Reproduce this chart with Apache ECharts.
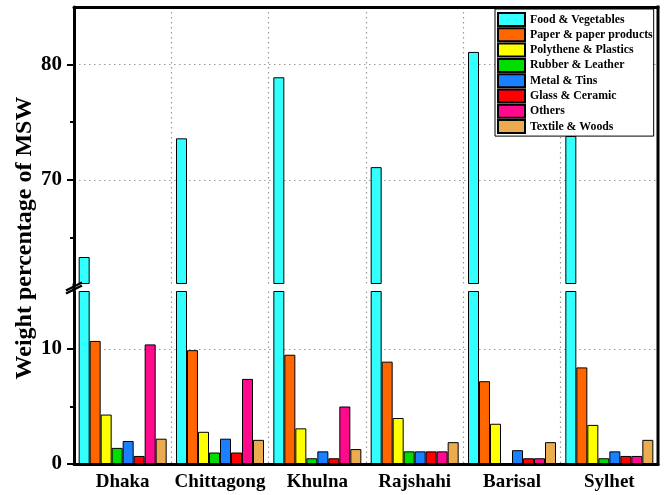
<!DOCTYPE html>
<html>
<head>
<meta charset="utf-8">
<script src="https://cdn.jsdelivr.net/npm/echarts@6/dist/echarts.min.js"></script>
<style>
  html, body { margin: 0; padding: 0; background: #fff; }
  #chart { width: 667px; height: 495px; }
</style>
</head>
<body>
<div id="chart"></div>
<script>
// Municipal solid waste composition (weight %) by city
const categories = ['Dhaka', 'Chittagong', 'Khulna', 'Rajshahi', 'Barisal', 'Sylhet'];
const food     = [63.3, 73.6, 78.9, 71.1, 81.1, 73.8];
const paper    = [10.7, 9.9, 9.5, 8.9, 7.2, 8.4];
const plastic  = [4.3, 2.8, 3.1, 4.0, 3.5, 3.4];
const rubber   = [1.4, 1.0, 0.5, 1.1, 0, 0.5];
const metal    = [2.0, 2.2, 1.1, 1.1, 1.2, 1.1];
const glass    = [0.7, 1.0, 0.5, 1.1, 0.5, 0.7];
const others   = [10.4, 7.4, 5.0, 1.1, 0.5, 0.7];
const textile  = [2.2, 2.1, 1.3, 1.9, 1.9, 2.1];

const seriesNames = ['Food & Vegetables', 'Paper & paper products', 'Polythene & Plastics',
  'Rubber & Leather', 'Metal & Tins', 'Glass & Ceramic', 'Others', 'Textile & Woods'];
const seriesData = [food, paper, plastic, rubber, metal, glass, others, textile];
const colors = ['#33FFFF', '#FF6600', '#FFFF00', '#00DD00', '#1A80FF', '#FF0000', '#FF0A8C', '#EBAB4F'];

// broken value axis: lower segment and upper segment
const lowerMin = 0, lowerMax = 15;
const upperMin = 61, upperMax = 85;
const lowerMajor = [0, 10], lowerMinor = [5];
const upperMajor = [70, 80], upperMinor = [65, 75];

// layout (px)
const W = 667, H = 495;
const plotLeft = 74, plotRight = 658;
const plotTop = 7, plotBottom = 464;
const upperBottom = 283.5, lowerTop = 291.5;

const FONT = 'Liberation Serif';
const dotted = { color: '#9a9a9a', width: 1.2, type: [1.5, 3.5] };

const lowerGrid = { left: plotLeft, right: W - plotRight, top: lowerTop, height: plotBottom - lowerTop };
const upperGrid = { left: plotLeft, right: W - plotRight, top: plotTop, height: upperBottom - plotTop };

function makeSeries(yIdx, xIdx) {
  return seriesNames.map((name, i) => {
    const vals = seriesData[i];
    return {
      name,
      type: 'bar',
      xAxisIndex: xIdx,
      yAxisIndex: yIdx,
      barWidth: 11,
      barGap: '0%',
      data: xIdx === 1 ? vals.map(v => (v > upperMin ? v : '-')) : vals.slice(),
      itemStyle: { color: colors[i], borderColor: '#000', borderWidth: 1 },
      emphasis: { disabled: true },
      clip: true,
      z: 3
    };
  });
}

function valueAxes(gridIndex, min, max, major, minor) {
  return [
    {
      type: 'value', gridIndex, min, max, position: 'left',
      axisLine: { show: true, onZero: false, lineStyle: { color: '#000', width: 3 } },
      axisTick: { show: true, customValues: major, length: 7, lineStyle: { color: '#000', width: 2 } },
      axisLabel: { show: true, customValues: major, margin: 12, color: '#000',
        fontFamily: FONT, fontWeight: 'bold', fontSize: 21 },
      splitLine: { show: true, lineStyle: dotted }
    },
    {
      type: 'value', gridIndex, min, max, position: 'left',
      axisLine: { show: false },
      axisTick: { show: true, customValues: minor, length: 4, lineStyle: { color: '#000', width: 2 } },
      axisLabel: { show: false },
      splitLine: { show: false }
    }
  ];
}

const chart = echarts.init(document.getElementById('chart'), null, { renderer: 'canvas' });

const option = {
  animation: false,
  backgroundColor: '#fff',
  grid: [lowerGrid, upperGrid],
  xAxis: [
    {
      type: 'category', gridIndex: 0, data: categories, position: 'bottom',
      axisLine: { show: true, lineStyle: { color: '#000', width: 3 } },
      axisTick: { show: false },
      axisLabel: { interval: 0, color: '#000', fontFamily: FONT, fontWeight: 'bold', fontSize: 19, margin: 9 },
      splitLine: { show: true, interval: 0, lineStyle: dotted }
    },
    {
      type: 'category', gridIndex: 1, data: categories, position: 'top',
      axisLine: { show: true, lineStyle: { color: '#000', width: 3 } },
      axisTick: { show: false },
      axisLabel: { show: false },
      splitLine: { show: true, interval: 0, lineStyle: dotted }
    }
  ],
  yAxis: [
    ...valueAxes(0, lowerMin, lowerMax, lowerMajor, lowerMinor),
    ...valueAxes(1, upperMin, upperMax, upperMajor, upperMinor)
  ],
  legend: {
    data: seriesNames,
    orient: 'vertical',
    left: 495, top: 9,
    itemWidth: 27, itemHeight: 13, itemGap: 0.3,
    icon: 'rect',
    backgroundColor: '#fff',
    borderColor: '#000', borderWidth: 1,
    padding: [3, 1, 2, 2],
    selectedMode: false,
    textStyle: { color: '#000', fontFamily: FONT, fontWeight: 'bold', fontSize: 11.8 },
    z: 10
  },
  graphic: [
    // y-axis title
    {
      type: 'text', x: 25, y: 238, rotation: Math.PI / 2,
      style: { text: 'Weight percentage of MSW', fill: '#000', align: 'center', verticalAlign: 'middle',
        font: 'bold 24px "' + FONT + '"' },
      z: 10
    },
    // frame pieces across the axis break and right border
    { type: 'line', shape: { x1: plotLeft, y1: upperBottom, x2: plotLeft, y2: lowerTop },
      style: { stroke: '#000', lineWidth: 3 }, z: 10 },
    { type: 'line', shape: { x1: plotRight, y1: plotTop - 1.5, x2: plotRight, y2: plotBottom + 1.5 },
      style: { stroke: '#000', lineWidth: 3 }, z: 10 },
    // break marks
    { type: 'line', shape: { x1: plotLeft - 8, y1: upperBottom + 7, x2: plotLeft + 8, y2: upperBottom - 1 },
      style: { stroke: '#000', lineWidth: 2.5 }, z: 11 },
    { type: 'line', shape: { x1: plotLeft - 8, y1: lowerTop + 2, x2: plotLeft + 8, y2: lowerTop - 6 },
      style: { stroke: '#000', lineWidth: 2.5 }, z: 11 }
  ],
  series: [...makeSeries(0, 0), ...makeSeries(2, 1)]
};

chart.setOption(option);
</script>
</body>
</html>
